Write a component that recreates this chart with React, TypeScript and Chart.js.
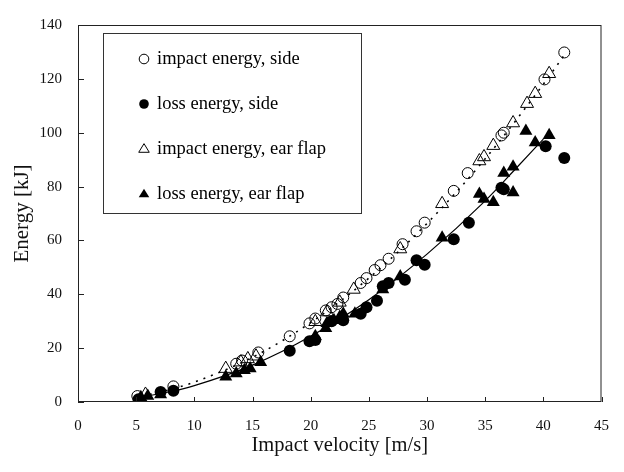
import React, { useEffect, useRef } from 'react';
import { Chart, registerables } from 'chart.js';
Chart.register(...registerables);

const legendLabels = ['impact energy, side', 'loss energy, side', 'impact energy, ear flap', 'loss energy, ear flap'];

const impactSideV = [5.1, 8.2, 13.6, 14.1, 15.5, 18.2, 19.9, 20.4, 21.3, 21.8, 22.3, 22.8, 24.3, 24.8, 25.5, 26.0, 26.7, 27.9, 29.1, 29.8, 32.3, 33.5, 36.4, 36.6, 40.1, 41.8];
const impactSideE = [2.2, 5.8, 14.2, 15.4, 18.4, 24.4, 29.2, 31.0, 34.0, 35.2, 36.4, 38.8, 44.2, 46.0, 49.0, 50.8, 53.2, 58.6, 63.4, 66.6, 78.4, 85.0, 99.0, 100.0, 119.8, 129.8];

const lossSideV = [5.2, 7.1, 8.2, 18.2, 19.9, 20.4, 21.8, 22.8, 24.3, 24.8, 25.7, 26.2, 26.7, 28.1, 29.1, 29.8, 32.3, 33.6, 36.4, 36.6, 40.2, 41.8];
const lossSideE = [1.0, 3.7, 4.2, 19.0, 22.6, 23.0, 30.0, 30.4, 32.8, 35.2, 37.6, 43.0, 44.2, 45.4, 52.6, 51.0, 60.4, 66.6, 79.6, 79.0, 95.0, 90.6];

const impactFlapV = [5.8, 12.7, 14.0, 14.6, 15.3, 20.4, 21.4, 22.5, 23.7, 27.7, 31.3, 34.5, 34.9, 35.7, 37.4, 38.6, 39.3, 40.5];
const impactFlapE = [2.8, 12.4, 14.8, 16.0, 17.0, 29.8, 33.4, 37.0, 41.8, 56.8, 73.6, 89.5, 91.0, 95.2, 103.6, 110.8, 114.5, 121.9];

const lossFlapV = [5.4, 6.0, 7.1, 12.7, 13.6, 14.3, 14.8, 15.7, 20.4, 21.3, 21.4, 22.0, 22.5, 22.8, 23.8, 26.2, 27.7, 31.3, 34.5, 34.9, 35.7, 36.6, 37.4, 37.4, 38.5, 39.3, 40.5];
const lossFlapE = [1.8, 2.2, 2.8, 9.4, 10.6, 11.8, 12.4, 14.8, 24.4, 27.4, 29.2, 30.4, 31.6, 32.8, 32.8, 41.8, 46.6, 61.0, 77.2, 75.4, 74.2, 85.0, 87.4, 77.8, 100.6, 96.4, 99.1];

const impactFitV = [5.5, 8, 10, 15, 20, 25, 30, 35, 40, 41.8];
const impactFitE = [2.2, 4.7, 7.4, 16.6, 29.5, 46.0, 66.3, 90.3, 118.0, 128.8];

const lossFitV = [5.3, 8, 10, 15, 20, 25, 30, 35, 37.7, 40.0];
const lossFitE = [1.7, 3.9, 6.1, 13.7, 24.4, 38.0, 54.9, 74.7, 87.0, 97.6];

const xTicks = [0, 5, 10, 15, 20, 25, 30, 35, 40, 45];
const yTicks = [0, 20, 40, 60, 80, 100, 120, 140];

const SERIF = "'Liberation Serif', 'Times New Roman', serif";

const pts = (xs: number[], ys: number[]) => xs.map((x, i) => ({ x, y: ys[i] }));

function drawMarker(ctx: CanvasRenderingContext2D, style: string, filled: boolean, x: number, y: number, r: number) {
  ctx.beginPath();
  if (style === 'circle') {
    ctx.arc(x, y, r, 0, Math.PI * 2);
  } else {
    const h = r * 1.8;
    ctx.moveTo(x, y - h * 0.62);
    ctx.lineTo(x + r * 1.1, y + h * 0.38);
    ctx.lineTo(x - r * 1.1, y + h * 0.38);
    ctx.closePath();
  }
  if (filled) {
    ctx.fillStyle = '#000';
    ctx.fill();
  } else {
    ctx.strokeStyle = '#000';
    ctx.lineWidth = 1;
    ctx.stroke();
  }
}

const framePlugin = {
  id: 'frameTicks',
  afterDatasetsDraw(chart: any) {
    const { ctx, chartArea: a, scales } = chart;
    ctx.save();
    ctx.strokeStyle = '#222';
    ctx.lineWidth = 1;
    ctx.strokeRect(a.left + 0.5, a.top + 0.5, a.right - a.left - 1, a.bottom - a.top - 1);
    ctx.beginPath();
    xTicks.forEach((v) => {
      const px = Math.round(scales.x.getPixelForValue(v)) + 0.5;
      ctx.moveTo(px, a.bottom);
      ctx.lineTo(px, a.bottom - 5);
    });
    yTicks.forEach((v) => {
      const py = Math.round(scales.y.getPixelForValue(v)) + 0.5;
      ctx.moveTo(a.left, py);
      ctx.lineTo(a.left + 6, py);
    });
    ctx.stroke();

    // legend box
    const lx = a.left + 25;
    const ly = a.top + 8;
    const lw = 258;
    const lh = 180;
    ctx.fillStyle = '#fff';
    ctx.fillRect(lx, ly, lw, lh);
    ctx.strokeStyle = '#333';
    ctx.strokeRect(lx + 0.5, ly + 0.5, lw, lh);
    const styles = ['circle', 'circle', 'triangle', 'triangle'];
    const fills = [false, true, false, true];
    ctx.font = `18.5px ${SERIF}`;
    ctx.textBaseline = 'middle';
    ctx.textAlign = 'left';
    legendLabels.forEach((t, i) => {
      const cy = ly + 26 + i * 45;
      drawMarker(ctx, styles[i], fills[i], lx + 41, cy, 4.8);
      ctx.fillStyle = '#000';
      ctx.fillText(t, lx + 54, cy);
    });
    ctx.restore();
  },
};

export default function App() {
  const ref = useRef<HTMLCanvasElement>(null);
  useEffect(() => {
    document.body.style.margin = '0';
    const canvas = ref.current!;
    const chart = new Chart(canvas, {
      type: 'scatter',
      data: {
        datasets: [
          {
            label: 'impact fit',
            data: pts(impactFitV, impactFitE),
            showLine: true,
            borderColor: '#000',
            borderWidth: 1.6,
            borderDash: [2, 6],
            pointRadius: 0,
            cubicInterpolationMode: 'monotone',
          },
          {
            label: 'loss fit',
            data: pts(lossFitV, lossFitE),
            showLine: true,
            borderColor: '#000',
            borderWidth: 1.2,
            pointRadius: 0,
            cubicInterpolationMode: 'monotone',
          },
          {
            label: legendLabels[0],
            data: pts(impactSideV, impactSideE),
            pointStyle: 'circle',
            pointRadius: 5.5,
            backgroundColor: 'rgba(0,0,0,0)',
            borderColor: '#000',
            borderWidth: 1,
          },
          {
            label: legendLabels[1],
            data: pts(lossSideV, lossSideE),
            pointStyle: 'circle',
            pointRadius: 6,
            backgroundColor: '#000',
            borderColor: '#000',
            borderWidth: 0,
          },
          {
            label: legendLabels[2],
            data: pts(impactFlapV, impactFlapE),
            pointStyle: 'triangle',
            pointRadius: 7.5,
            backgroundColor: 'rgba(0,0,0,0)',
            borderColor: '#000',
            borderWidth: 1,
          },
          {
            label: legendLabels[3],
            data: pts(lossFlapV, lossFlapE),
            pointStyle: 'triangle',
            pointRadius: 7.5,
            backgroundColor: '#000',
            borderColor: '#000',
            borderWidth: 0,
          },
        ],
      },
      options: {
        responsive: false,
        animation: false,
        layout: { padding: { top: 12, right: 18, left: 0, bottom: 0 } },
        plugins: { legend: { display: false }, tooltip: { enabled: false } },
        scales: {
          x: {
            type: 'linear',
            min: 0,
            max: 45,
            afterBuildTicks: (s: any) => { s.ticks = xTicks.map((v) => ({ value: v })); },
            afterFit: (s: any) => { s.height = 70; },
            grid: { display: false, drawTicks: false },
            border: { display: false },
            ticks: { padding: 15, color: '#111', font: { family: SERIF, size: 15 }, maxRotation: 0 },
            title: { display: true, text: 'Impact velocity [m/s]', color: '#111', font: { family: SERIF, size: 20.5 }, padding: { top: 0, bottom: 14 } },
          },
          y: {
            type: 'linear',
            min: 0,
            max: 140,
            afterBuildTicks: (s: any) => { s.ticks = yTicks.map((v) => ({ value: v })); },
            afterFit: (s: any) => { s.width = 78; },
            grid: { display: false, drawTicks: false },
            border: { display: false },
            ticks: { padding: 16, color: '#111', font: { family: SERIF, size: 15 } },
            title: { display: true, text: 'Energy [kJ]', color: '#111', font: { family: SERIF, size: 21 }, padding: { top: 10, bottom: 0 } },
          },
        },
      },
      plugins: [framePlugin],
    } as any);
    return () => chart.destroy();
  }, []);
  return <canvas ref={ref} width={624} height={472} style={{ display: 'block' }} />;
}
